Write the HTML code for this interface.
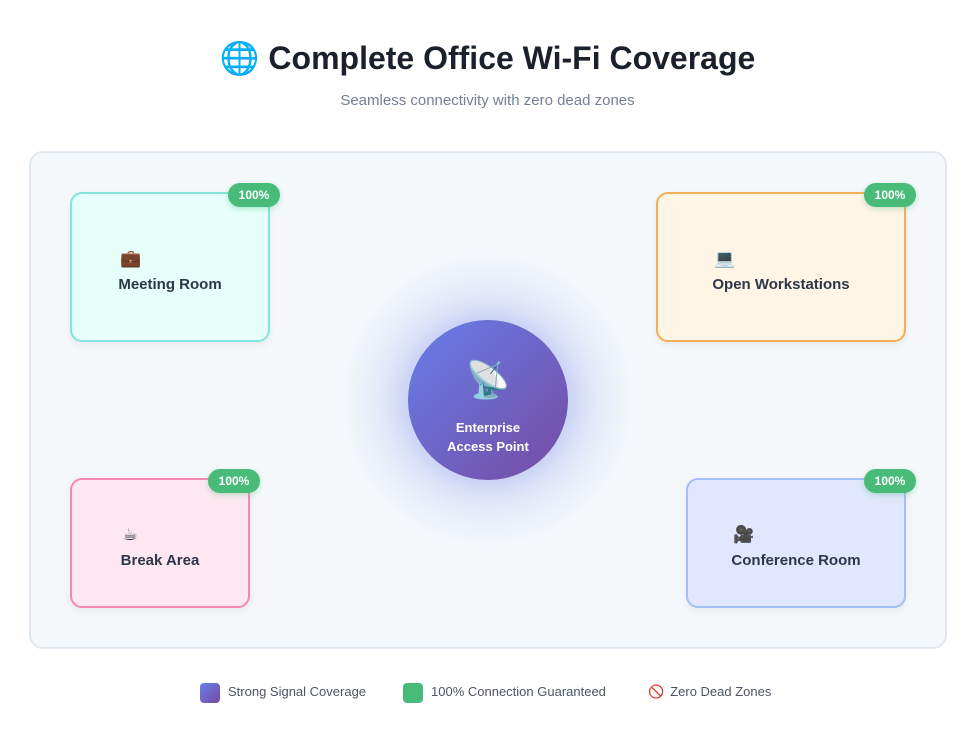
<!DOCTYPE html>
<html><head><meta charset="utf-8"><style>
*{margin:0;padding:0;box-sizing:border-box}
body{width:975px;height:729px;background:#fff;font-family:"Liberation Sans","DejaVu Sans",sans-serif;position:relative;overflow:hidden;color:#2d3748}
.abs{position:absolute}
h1{position:absolute;left:0;width:975px;top:39px;text-align:center;font-size:32px;font-weight:bold;color:#1a202c}
.sub{position:absolute;left:0;width:975px;top:92px;text-align:center;font-size:15px;color:#718096}
.cont{left:29px;top:151px;width:918px;height:498px;border:2px solid #e2e8f0;border-radius:14px;background:#f5f8fb}
.card{position:absolute;border:2px solid;border-radius:12px;box-shadow:0 3px 8px rgba(0,0,0,.06)}
.inner{position:absolute;left:0;right:0;text-align:center}
.inner>div{display:inline-block;text-align:left}
.ic{display:block;font-size:17px;line-height:20px;margin-left:2px}
.lb{display:block;font-size:15px;font-weight:bold;color:#2d3748;margin-top:7px}
.badge{position:absolute;width:52px;height:24px;border-radius:12px;background:#48bb78;color:#fff;font-size:12px;font-weight:bold;text-align:center;line-height:24px;box-shadow:0 2px 6px rgba(72,187,120,.35)}
.glow{left:338px;top:250px;width:300px;height:300px;border-radius:50%;background:radial-gradient(circle,rgba(102,126,234,.18) 40%,rgba(102,126,234,0) 70%)}
.ap{left:408px;top:320px;width:160px;height:160px;border-radius:50%;background:linear-gradient(135deg,#667eea,#764ba2);color:#fff;text-align:center;box-shadow:0 0 30px rgba(102,126,234,.3)}
.leg{top:682px;font-size:13px;color:#4a5568;line-height:20px}
.sq{display:inline-block;width:20px;height:20px;border-radius:4px;vertical-align:middle;margin-right:8px}
</style></head><body>
<h1>🌐 Complete Office Wi-Fi Coverage</h1>
<div class="sub">Seamless connectivity with zero dead zones</div>
<div class="abs cont"></div>

<div class="card" style="left:70px;top:192px;width:200px;height:150px;border-color:#81e6d9;background:#e6fffa">
 <div class="inner" style="top:55px"><div><span class="ic">💼</span><span class="lb">Meeting Room</span></div></div>
</div>
<div class="badge" style="left:228px;top:183px">100%</div>

<div class="card" style="left:656px;top:192px;width:250px;height:150px;border-color:#f6ad55;background:#fef5e7">
 <div class="inner" style="top:55px"><div><span class="ic">💻</span><span class="lb">Open Workstations</span></div></div>
</div>
<div class="badge" style="left:864px;top:183px">100%</div>

<div class="card" style="left:70px;top:478px;width:180px;height:130px;border-color:#f687b3;background:#fde8f1">
 <div class="inner" style="top:45px"><div><span class="ic">☕</span><span class="lb">Break Area</span></div></div>
</div>
<div class="badge" style="left:208px;top:469px">100%</div>

<div class="card" style="left:686px;top:478px;width:220px;height:130px;border-color:#a3bffa;background:#e0e7ff">
 <div class="inner" style="top:45px"><div><span class="ic">🎥</span><span class="lb">Conference Room</span></div></div>
</div>
<div class="badge" style="left:864px;top:469px">100%</div>

<div class="abs glow"></div>
<div class="abs ap">
 <div style="font-size:36px;margin-top:38px;line-height:44px">📡</div>
 <div style="font-size:13px;font-weight:bold;line-height:19px;margin-top:16px">Enterprise<br>Access Point</div>
</div>

<div class="abs leg" style="left:200px"><span class="sq" style="background:linear-gradient(135deg,#667eea,#764ba2)"></span>Strong Signal Coverage</div>
<div class="abs leg" style="left:403px"><span class="sq" style="background:#48bb78"></span>100% Connection Guaranteed</div>
<div class="abs leg" style="left:648px"><span style="color:#f56565;font-size:13px;margin-right:6px">🚫</span>Zero Dead Zones</div>
</body></html>
